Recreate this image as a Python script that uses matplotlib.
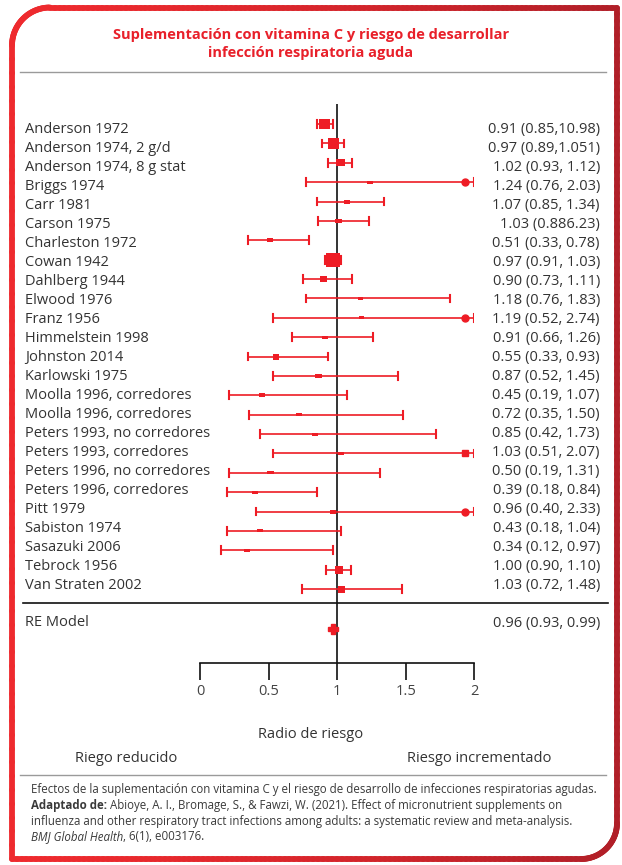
import matplotlib
matplotlib.use("Agg")
import matplotlib.pyplot as plt
import numpy as np
from matplotlib.collections import LineCollection
from matplotlib.patches import Rectangle
from matplotlib.colors import to_rgb

# ---------------- data ----------------
studies = [
    "Anderson 1972", "Anderson 1974, 2 g/d", "Anderson 1974, 8 g stat", "Briggs 1974",
    "Carr 1981", "Carson 1975", "Charleston 1972", "Cowan 1942", "Dahlberg 1944",
    "Elwood 1976", "Franz 1956", "Himmelstein 1998", "Johnston 2014", "Karlowski 1975",
    "Moolla 1996, corredores", "Moolla 1996, corredores", "Peters 1993, no corredores",
    "Peters 1993, corredores", "Peters 1996, no corredores", "Peters 1996, corredores",
    "Pitt 1979", "Sabiston 1974", "Sasazuki 2006", "Tebrock 1956", "Van Straten 2002",
]
estimates = [0.91, 0.97, 1.02, 1.24, 1.07, 1.01, 0.51, 0.97, 0.90, 1.17, 1.18, 0.91, 0.55,
             0.86, 0.45, 0.72, 0.84, 1.03, 0.51, 0.40, 0.965, 0.435, 0.34, 1.01, 1.03]
ci_low = [0.85, 0.89, 0.93, 0.77, 0.85, 0.86, 0.35, 0.91, 0.75, 0.775, 0.53, 0.67, 0.35,
          0.53, 0.21, 0.355, 0.435, 0.53, 0.21, 0.195, 0.41, 0.195, 0.15, 0.92, 0.74]
ci_high = [0.97, 1.05, 1.11, 2.03, 1.34, 1.23, 0.79, 1.03, 1.11, 1.82, 2.74, 1.26, 0.93,
           1.44, 1.07, 1.48, 1.72, 2.07, 1.31, 0.85, 2.33, 1.03, 0.965, 1.10, 1.47]
ci_labels = [
    "0.91 (0.85,10.98)", "0.97 (0.89,1.051)", "1.02 (0.93, 1.12)", "1.24 (0.76, 2.03)",
    "1.07 (0.85, 1.34)", "1.03 (0.886.23)", "0.51 (0.33, 0.78)", "0.97 (0.91, 1.03)",
    "0.90 (0.73, 1.11)", "1.18 (0.76, 1.83)", "1.19 (0.52, 2.74)", "0.91 (0.66, 1.26)",
    "0.55 (0.33, 0.93)", "0.87 (0.52, 1.45)", "0.45 (0.19, 1.07)", "0.72 (0.35, 1.50)",
    "0.85 (0.42, 1.73)", "1.03 (0.51, 2.07)", "0.50 (0.19, 1.31)", "0.39 (0.18, 0.84)",
    "0.96 (0.40, 2.33)", "0.43 (0.18, 1.04)", "0.34 (0.12, 0.97)", "1.00 (0.90, 1.10)",
    "1.03 (0.72, 1.48)",
]
# study weights shown as box sizes (width, height)
weight_w = [11, 11, 9, 6, 6, 7, 6, 14, 7, 5, 5, 6, 6, 7, 6, 6, 6, 6, 7, 6, 6, 6, 6, 8, 7]
weight_h = [10, 11, 7, 3, 4, 4, 4, 14, 6, 3, 3, 3, 6, 4, 4, 3, 3, 3, 3, 3, 4, 3, 3, 8, 7]
# marker drawn at the clipped end of intervals that run past the axis
clip_marker = ["o", "o", "o", "o", "o", "o", "o", "o", "o", "o", "o", "o", "o",
               "o", "o", "o", "o", "s", "o", "o", "o", "o", "o", "o", "o"]

re_label = "RE Model"
re_estimate = 0.965
re_ci_text = "0.96 (0.93, 0.99)"

x_ticks = [0, 0.5, 1, 1.5, 2]
x_tick_labels = ["0", "0.5", "1", "1.5", "2"]

title = "Suplementación con vitamina C y riesgo de desarrollar\ninfección respiratoria aguda"
x_label = "Radio de riesgo"
left_note = "Riego reducido"
right_note = "Riesgo incrementado"

# ---------------- style ----------------
W, H, DPI = 622, 865, 100
RED = "#ee1c25"
TXT = "#333333"
FONT = ["Open Sans", "DejaVu Sans"]
plt.rcParams["font.family"] = FONT

fig = plt.figure(figsize=(W / DPI, H / DPI), dpi=DPI)
fig.patch.set_facecolor("white")

# overlay axes in pixel coordinates
ov = fig.add_axes([0, 0, 1, 1])
ov.set_xlim(0, W)
ov.set_ylim(H, 0)
ov.axis("off")

# forest axes
PX0, PX2 = 200.3, 474.3          # pixel x of 0 and 2
ROW0, ROWSTEP = 124.0, 19.375    # pixel y of first marker row and step
Y_TOP, Y_AX = 104.0, 663.0
ax = fig.add_axes([PX0 / W, 1 - Y_AX / H, (PX2 - PX0) / W, (Y_AX - Y_TOP) / H])
ax.set_xlim(0, 2)
ax.set_ylim(-(Y_AX - ROW0) / ROWSTEP, (ROW0 - Y_TOP) / ROWSTEP)
ax.patch.set_alpha(0)
for s in ["top", "right", "left"]:
    ax.spines[s].set_visible(False)
ax.spines["bottom"].set_linewidth(1.2)
ax.spines["bottom"].set_color("#111111")
ax.set_yticks([])
ax.set_xticks(x_ticks)
ax.set_xticklabels(x_tick_labels, fontsize=10.5, color="#444444")
ax.tick_params(axis="x", length=12, width=1.2, color="#111111", pad=3)

ax.axvline(1, color="#111111", lw=1.2, zorder=1)

xmax = 2.0
px_per_unit = (PX2 - PX0) / 2.0
for i, (est, lo, hi) in enumerate(zip(estimates, ci_low, ci_high)):
    y = -i
    hi_c = min(hi, xmax)
    ax.plot([lo, hi_c], [y, y], color=RED, lw=1.2, zorder=3, solid_capstyle="butt")
    for xc in (lo, hi_c):
        ax.plot([xc, xc], [y - 0.2, y + 0.2], color=RED, lw=1.5, zorder=3)
    bw = weight_w[i] / px_per_unit
    bh = weight_h[i] / ROWSTEP
    ax.add_patch(Rectangle((est - bw / 2, y - bh / 2), bw, bh, color=RED, lw=0, zorder=4))
    if hi > xmax:
        ax.plot([xmax - 0.065], [y], marker=clip_marker[i], ms=5, color=RED, mec=RED, zorder=4)

re_row = -26.06
ax.plot([re_estimate], [re_row], marker="P", ms=7, color=RED, mec=RED, zorder=4)

# ---------------- texts ----------------
for i, (name, lab) in enumerate(zip(studies, ci_labels)):
    yt = 129.5 + 19.0 * i
    ov.text(25, yt, name, fontsize=10.5, color=TXT, ha="left", va="center")
    ov.text(600, yt, lab, fontsize=10.5, color=TXT, ha="right", va="center")
ov.text(25, 623, re_label, fontsize=10.5, color=TXT, ha="left", va="center")
ov.text(600, 623, re_ci_text, fontsize=10.5, color=TXT, ha="right", va="center")
ov.plot([23, 608], [603, 603], color="#111111", lw=1.2)

ov.text(311, 44, title, fontsize=10.5, color="#e8202a", fontweight="bold",
        ha="center", va="center", linespacing=1.4)
ov.plot([20, 606], [72, 72], color="#9a9a9a", lw=1.0)

ov.text(311, 734, x_label, fontsize=10.5, color=TXT, ha="center", va="center")
ov.text(126, 759, left_note, fontsize=10.5, color=TXT, ha="center", va="center")
ov.text(479, 759, right_note, fontsize=10.5, color=TXT, ha="center", va="center")
ov.plot([20, 606], [775, 775], color="#9a9a9a", lw=1.0)

# caption with mixed styles
renderer = fig.canvas.get_renderer()
CAP = 8.3
cap_lines = [
    [("Efectos de la suplementación con vitamina C y el riesgo de desarrollo de infecciones respiratorias agudas.", "normal", "normal")],
    [("Adaptado de:", "bold", "normal"),
     (" Abioye, A. I., Bromage, S., & Fawzi, W. (2021). Effect of micronutrient supplements on", "normal", "normal")],
    [("influenza and other respiratory tract infections among adults: a systematic review and meta-analysis.", "normal", "normal")],
    [("BMJ Global Health", "normal", "italic"), (", 6(1), e003176.", "normal", "normal")],
]
cap_y = [790, 806, 821, 837]
for parts, yy in zip(cap_lines, cap_y):
    x = 31.0
    for txt, wt, st in parts:
        t = ov.text(x, yy, txt, fontsize=CAP, color="#3a3a3a", fontweight=wt, fontstyle=st,
                    ha="left", va="center")
        bb = t.get_window_extent(renderer=renderer)
        x += bb.width

# ---------------- frame ----------------
def frame_points():
    L, R, T, B = 12.0, 617.0, 7.5, 859.0
    r1, r2 = 38.0, 36.0
    pts = []
    for yy in np.linspace(B, T + r1, 60):
        pts.append((L, yy))
    for a in np.linspace(np.pi, 1.5 * np.pi, 40):
        pts.append((L + r1 + r1 * np.cos(a), T + r1 + r1 * np.sin(a)))
    for xx in np.linspace(L + r1, R, 120):
        pts.append((xx, T))
    for yy in np.linspace(T, B - r2, 120):
        pts.append((R, yy))
    for a in np.linspace(0, 0.5 * np.pi, 40):
        pts.append((R - r2 + r2 * np.cos(a), B - r2 + r2 * np.sin(a)))
    for xx in np.linspace(R - r2, L, 120):
        pts.append((xx, B))
    pts.append((L, B))
    return np.array(pts)

pts = frame_points()
segs = np.stack([pts[:-1], pts[1:]], axis=1)
c0, c1 = np.array(to_rgb("#ee2a2e")), np.array(to_rgb("#b01f28"))
mid = segs.mean(axis=1)
f = np.clip((mid[:, 0] - 12) / (617 - 12), 0, 1) ** 1.5
cols = c0[None, :] * (1 - f[:, None]) + c1[None, :] * f[:, None]
lc = LineCollection(segs, colors=cols, linewidths=4.2, capstyle="round", joinstyle="round")
ov.add_collection(lc)

fig.savefig("out.png", dpi=DPI, facecolor="white")
